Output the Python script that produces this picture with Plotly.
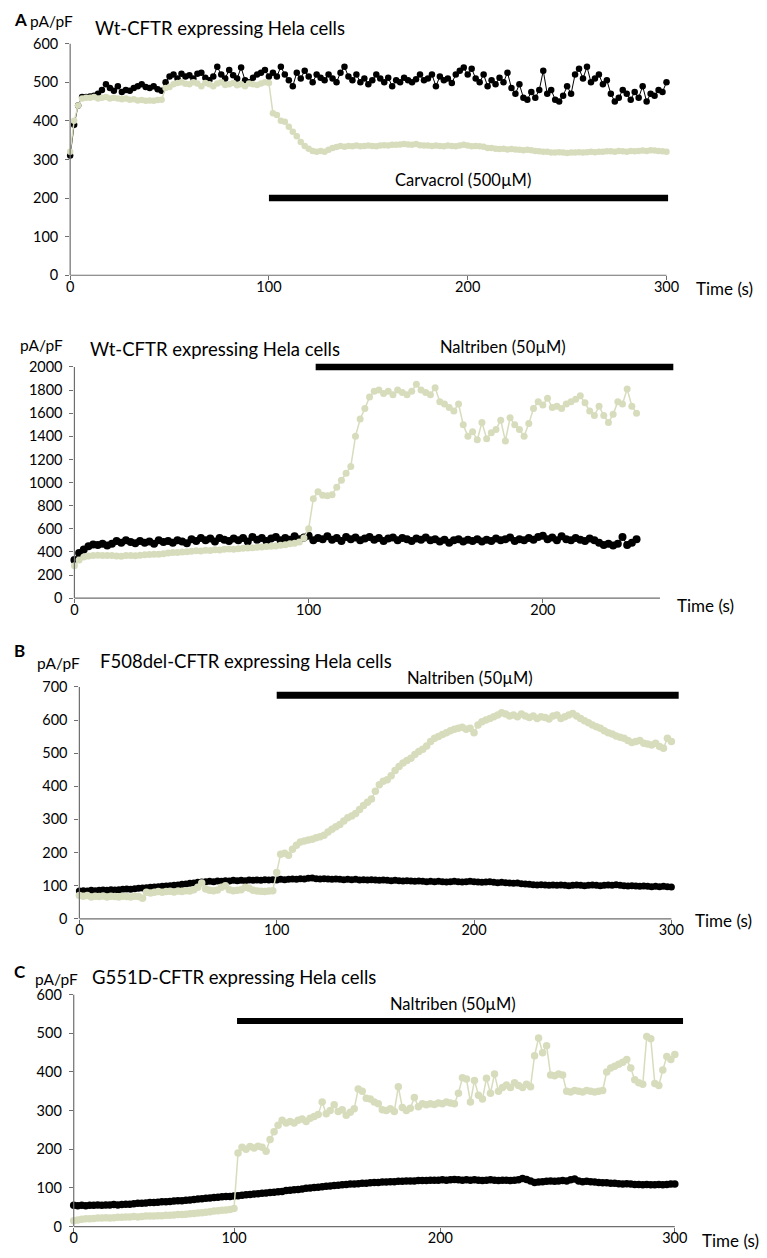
import plotly.graph_objects as go

# The page body has an 8 px margin, so the figure is drawn 8 px smaller and
# every reference pixel position is shifted by OFF.
OFF = 8
W, H = 767 - OFF, 1258 - OFF
GREEN = "#d7ddbc"
BLACK = "#000000"
AXC = "#6e6e6e"
FONT = "Lato"

# ---------------- data ----------------
# Panel A (top): Wt-CFTR, carvacrol
A_TIME = list(range(0, 301, 2))
A_CTRL = [
    310, 390, 440, 462, 462, 463, 465, 470, 480, 495,
    485, 478, 490, 475, 480, 478, 485, 490, 495, 488,
    485, 490, 482, 478, 500, 515, 520, 510, 522, 515,
    518, 510, 522, 525, 512, 505, 515, 540, 520, 510,
    532, 518, 510, 538, 505, 500, 512, 520, 525, 532,
    515, 525, 515, 540, 520, 505, 490, 525, 510, 530,
    515, 500, 520, 512, 505, 520, 510, 500, 525, 540,
    515, 505, 520, 500, 510, 495, 505, 520, 510, 500,
    512, 490, 505, 500, 512, 505, 500, 508, 520, 505,
    510, 520, 490, 515, 505, 510, 498, 520, 530, 538,
    520, 535, 510, 500, 520, 490, 505, 495, 512, 500,
    525, 485, 470, 495, 460, 455, 475, 460, 480, 530,
    470, 480, 455, 450, 465, 490, 470, 520, 535, 510,
    540, 500, 510, 520, 495, 505, 470, 450, 460, 480,
    470, 455, 475, 460, 490, 450, 470, 465, 480, 475,
    500,
]
A_CARV = [
    320, 400, 440, 458, 460, 460, 462, 458, 460, 462,
    458, 460, 458, 456, 458, 455, 456, 453, 454, 452,
    453, 452, 454, 455, 485, 488, 495, 498, 500, 496,
    495, 500, 497, 490, 498, 495, 490, 497, 500, 493,
    495, 498, 492, 495, 490, 497, 495, 493, 497, 500,
    498, 420, 415, 400, 398, 385, 372, 360, 345, 335,
    328, 322, 320, 322, 320, 325, 330, 332, 335, 333,
    335, 334, 336, 334, 335, 336, 335, 334, 336, 337,
    336, 338, 338, 339, 340, 339, 338, 340, 337, 336,
    336, 335, 336, 335, 334, 336, 335, 334, 336, 338,
    336, 334, 335, 334, 333, 330, 330, 328, 327, 328,
    326, 327, 326, 325, 324, 325, 324, 322, 321, 320,
    320, 318, 318, 319, 318, 317, 318, 318, 319, 318,
    319, 320, 319, 320, 320, 321, 321, 320, 322, 321,
    320, 322, 321, 322, 323, 322, 324, 323, 322, 321,
    320,
]
A_BAR = (100, 300.8, 200)          # start, end, level
A_BAR_TEXT = ("Carvacrol (500µM)", 197.4, 246)

# Panel A2: Wt-CFTR, naltriben
A2_TIME = list(range(0, 241, 2))
A2_CTRL = [
    330, 390, 420, 450, 465, 460, 470, 455, 470, 495,
    480, 500, 485, 475, 495, 480, 490, 470, 500, 485,
    495, 480, 500, 490, 475, 510, 495, 520, 500, 515,
    490, 520, 505, 495, 515, 500, 520, 490, 530, 505,
    520, 495, 515, 530, 500, 520, 505, 535, 510, 525,
    540, 500, 520, 510, 535, 505, 520, 495, 530, 510,
    525, 500, 515, 530, 505, 520, 495, 515, 525, 500,
    520, 510, 495, 515, 505, 525, 500, 510, 490, 505,
    480, 500, 510, 490, 505, 495, 510, 490, 505, 495,
    515, 500, 510, 525, 495, 510, 500, 520, 505, 530,
    540, 510, 525, 500, 535, 510, 500, 520, 505, 495,
    515, 500, 480, 460, 470, 455, 470, 530, 460, 480,
    510,
]
A2_NALT = [
    280, 330, 355, 365, 370, 372, 370, 368, 370, 365,
    362, 368, 370, 366, 372, 375, 378, 380, 380, 385,
    390, 394, 396, 400, 402, 405, 410, 408, 414, 412,
    418, 416, 422, 425, 422, 428, 432, 434, 436, 440,
    442, 446, 450, 452, 458, 462, 470, 474, 485, 520,
    600, 860, 920, 890, 885, 895, 960, 1020, 1080, 1140,
    1400, 1550, 1640, 1740, 1790, 1800, 1770, 1790, 1760, 1800,
    1780, 1760, 1790, 1850, 1800, 1780, 1760, 1820, 1700, 1680,
    1650, 1620, 1680, 1500, 1400, 1440, 1370, 1520, 1380, 1430,
    1460, 1540, 1360, 1560, 1500, 1460, 1400, 1510, 1640, 1700,
    1670, 1730, 1650, 1660, 1640, 1680, 1700, 1720, 1750, 1690,
    1620, 1580, 1660, 1580, 1520, 1590, 1700, 1680, 1810, 1660,
    1600,
]
A2_BAR = (103, 255.7, 2000)
A2_BAR_TEXT = ("Naltriben (50µM)", 183, 2169)

# Panel B: F508del-CFTR, naltriben
B_TIME = list(range(0, 301, 2))
B_CTRL = [
    84, 85, 84, 86, 85, 86, 87, 86, 88, 87,
    88, 89, 90, 89, 91, 92, 93, 94, 95, 96,
    97, 98, 99, 100, 101, 102, 104, 105, 107, 108,
    110, 111, 112, 113, 112, 114, 113, 115, 114, 116,
    115, 116, 115, 117, 116, 117, 116, 118, 117, 118,
    117, 119, 118, 119, 120, 119, 121, 120, 122, 123,
    121, 120, 121, 120, 119, 120, 119, 118, 119, 118,
    119, 117, 118, 117, 118, 117, 116, 117, 116, 115,
    116, 115, 114, 115, 114, 113, 114, 113, 112, 113,
    112, 113, 112, 111, 112, 113, 112, 111, 112, 113,
    112, 111, 110, 111, 112, 110, 109, 110, 109, 108,
    107, 108, 106, 105, 104, 103, 102, 103, 102, 101,
    102, 101, 102, 101, 100, 101, 102, 101, 100, 101,
    102, 101, 100, 101, 102, 101, 103, 101, 100, 99,
    100, 99, 98, 99, 98, 97, 98, 97, 98, 97,
    96,
]
B_NALT = [
    70, 68, 70, 66, 68, 67, 69, 66, 68, 67,
    66, 68, 67, 66, 68, 67, 62, 80, 78, 80,
    82, 80, 82, 83, 81, 84, 82, 85, 84, 88,
    95, 108, 90, 86, 85, 87, 95, 100, 88, 85,
    86, 88, 95, 92, 86, 84, 83, 82, 84, 85,
    140, 195, 198, 192, 210, 222, 232, 235, 238, 240,
    245, 248, 252, 262, 270, 278, 285, 295, 305, 310,
    318, 330, 342, 352, 362, 385, 405, 415, 420, 432,
    448, 460, 470, 478, 485, 496, 505, 512, 522, 535,
    545, 550, 556, 562, 568, 572, 575, 578, 572, 575,
    562, 585, 595, 600, 605, 610, 615, 622, 618, 612,
    615, 610, 618, 612, 608, 612, 605, 610, 608, 603,
    612, 615, 605, 610, 615, 620, 612, 605, 598, 592,
    585, 580, 575, 568, 562, 558, 552, 548, 545, 538,
    532, 535, 538, 530, 528, 525, 530, 520, 515, 545,
    535,
]
B_BAR = (100, 303.7, 675)
B_BAR_TEXT = ("Naltriben (50µM)", 198, 727)

# Panel C: G551D-CFTR, naltriben (category-like sample axis)
C_SAMPLE = list(range(0, 301, 2))
C_TICK_POS = [0, 80, 183, 300]
C_TICK_TEXT = ["0", "100", "200", "300"]
C_CTRL = [
    55, 54, 55, 54, 55, 55, 56, 55, 56, 56,
    57, 56, 57, 58, 58, 59, 60, 60, 61, 62,
    62, 63, 64, 64, 65, 66, 67, 67, 68, 69,
    70, 71, 72, 73, 74, 75, 76, 77, 78, 78,
    79, 80, 81, 82, 83, 84, 85, 86, 87, 88,
    89, 90, 91, 93, 94, 95, 96, 97, 99, 100,
    101, 102, 103, 104, 105, 106, 107, 108, 109, 110,
    110, 111, 112, 112, 113, 114, 114, 115, 115, 116,
    116, 117, 117, 118, 118, 118, 119, 119, 119, 120,
    120, 120, 121, 120, 121, 122, 121, 120, 121, 120,
    121, 120, 119, 120, 121, 120, 119, 120, 120, 119,
    120, 121, 124, 122, 118, 114, 115, 116, 117, 118,
    117, 118, 119, 118, 121, 123, 118, 116, 117, 116,
    115, 114, 113, 113, 112, 112, 111, 110, 111, 110,
    109, 109, 108, 109, 108, 108, 109, 108, 109, 110,
    110,
]
C_NALT = [
    15, 17, 19, 20, 20, 21, 22, 22, 23, 22,
    23, 24, 24, 25, 25, 26, 25, 26, 27, 27,
    27, 28, 28, 29, 29, 30, 31, 31, 32, 33,
    34, 35, 36, 37, 38, 40, 41, 42, 43, 44,
    47, 190, 205, 200, 207, 203, 208, 205, 195, 225,
    245, 262, 275, 268, 272, 268, 275, 278, 272, 280,
    285, 290, 322, 292, 300, 315, 298, 302, 288, 296,
    305, 356, 350, 332, 330, 322, 318, 302, 300, 305,
    298, 362, 308, 300, 306, 334, 310, 318, 315, 318,
    316, 320, 318, 322, 320, 318, 345, 385, 382, 322,
    378, 340, 330, 384, 345, 395, 350, 360, 366, 360,
    372, 365, 360, 368, 362, 442, 488, 450, 468, 392,
    390, 395, 392, 350, 348, 352, 350, 348, 352, 350,
    348, 350, 352, 400, 410, 415, 420, 425, 432, 410,
    380, 372, 368, 492, 486, 370, 365, 405, 440, 432,
    445,
]
C_BAR = (81.5, 304.1, 532)
C_BAR_TEXT = ("Naltriben (50µM)", 189.2, 576)

# ---------------- layout geometry (reference pixels) ----------------
panels = [
    dict(x=A_TIME, ctrl=A_CTRL, drug=A_CARV, bar=A_BAR, bartext=A_BAR_TEXT,
         px0=66.7, ppu=2.0063, xr=305, py0=273.0, ppv=0.39, yr=610,
         xmax=300, ymax=600, yticks=list(range(0, 601, 100)),
         xticks=[0, 100, 200, 300], xtext=None, barw=6.6, ms=(6.5, 6.5)),
    dict(x=A2_TIME, ctrl=A2_CTRL, drug=A2_NALT, bar=A2_BAR, bartext=A2_BAR_TEXT,
         px0=71.0, ppu=2.364, xr=262, py0=599.3, ppv=0.1168, yr=2200,
         xmax=250, ymax=2000, yticks=list(range(0, 2001, 200)),
         xticks=[0, 100, 200], xtext=None, barw=6.3, ms=(8, 7)),
    dict(x=B_TIME, ctrl=B_CTRL, drug=B_NALT, bar=B_BAR, bartext=B_BAR_TEXT,
         px0=76.0, ppu=1.9917, xr=310, py0=923.3, ppv=0.3347, yr=740,
         xmax=300, ymax=700, yticks=list(range(0, 701, 100)),
         xticks=[0, 100, 200, 300], xtext=None, barw=7.0, ms=(7, 7.5)),
    dict(x=C_SAMPLE, ctrl=C_CTRL, drug=C_NALT, bar=C_BAR, bartext=C_BAR_TEXT,
         px0=70.3, ppu=2.0223, xr=310, py0=1234.3, ppv=0.3905, yr=620,
         xmax=300, ymax=600, yticks=list(range(0, 601, 100)),
         xticks=C_TICK_POS, xtext=C_TICK_TEXT, barw=6.0, ms=(7.5, 7.5)),
]

fig = go.Figure()
shapes = []
annotations = []
layout_axes = {}

for i, p in enumerate(panels):
    n = "" if i == 0 else str(i + 1)
    xa, ya = "x" + n, "y" + n
    left = p["px0"] - OFF
    bottom = p["py0"] - OFF
    xd = [left / W, (left + p["xr"] * p["ppu"]) / W]
    ytop = bottom - p["yr"] * p["ppv"]
    yd = [1 - bottom / H, 1 - ytop / H]

    fig.add_trace(go.Scatter(
        x=p["x"], y=p["ctrl"], mode="lines+markers", xaxis=xa, yaxis=ya,
        line=dict(color=BLACK, width=1), marker=dict(color=BLACK, size=p["ms"][0]),
        cliponaxis=False, showlegend=False, hoverinfo="skip"))
    fig.add_trace(go.Scatter(
        x=p["x"], y=p["drug"], mode="lines+markers", xaxis=xa, yaxis=ya,
        line=dict(color=GREEN, width=1.5), marker=dict(color=GREEN, size=p["ms"][1]),
        cliponaxis=False, showlegend=False, hoverinfo="skip"))

    tickfont = dict(family=FONT, size=14.5, color="#000")
    xaxis = dict(domain=xd, range=[0, p["xr"]], anchor=ya, showline=False,
                 zeroline=False, showgrid=False, ticks="outside", ticklen=4,
                 tickwidth=1, tickcolor=AXC, tickvals=p["xticks"],
                 tickfont=tickfont, ticklabelstandoff=-6)
    if p["xtext"] is not None:
        xaxis["ticktext"] = p["xtext"]
    yaxis = dict(domain=yd, range=[0, p["yr"]], anchor=xa, showline=False,
                 zeroline=False, showgrid=False, ticks="outside", ticklen=4,
                 tickwidth=1, tickcolor=AXC, tickvals=p["yticks"],
                 tickfont=tickfont, ticklabelstandoff=4)
    layout_axes["xaxis" + n] = xaxis
    layout_axes["yaxis" + n] = yaxis

    # axis lines
    shapes.append(dict(type="line", xref=xa, yref=ya + " domain",
                       x0=0, x1=p["xmax"], y0=0, y1=0,
                       line=dict(color=AXC, width=1.2)))
    shapes.append(dict(type="line", xref=xa + " domain", yref=ya,
                       x0=0, x1=0, y0=0, y1=p["ymax"],
                       line=dict(color=AXC, width=1.2)))
    # treatment bar
    b0, b1, lvl = p["bar"]
    shapes.append(dict(type="line", xref=xa, yref=ya, x0=b0, x1=b1,
                       y0=lvl, y1=lvl, line=dict(color=BLACK, width=p["barw"])))
    txt, tx, ty = p["bartext"]
    annotations.append(dict(text=txt, x=tx, y=ty, xref=xa, yref=ya,
                            showarrow=False, xanchor="center", yanchor="middle",
                            font=dict(family=FONT, size=16.5, color="#000")))


def pa(text, px, py, size, bold=False, anchor="left"):
    if bold:
        text = "<b>" + text + "</b>"
    annotations.append(dict(text=text, x=max(px - OFF, 0) / W, y=1 - (py - OFF) / H,
                            xref="paper", yref="paper", showarrow=False,
                            xanchor=anchor, yanchor="middle",
                            font=dict(family=FONT, size=size, color="#000")))


# panel letters
pa("A", 0, 15, 17, bold=True)
pa("B", 0, 652, 17, bold=True)
pa("C", 0, 977, 17, bold=True)
# y-unit labels
pa("pA/pF", 24, 16, 15.5)
pa("pA/pF", 14, 343, 15.5)
pa("pA/pF", 31, 665, 15.5)
pa("pA/pF", 29, 984, 15.5)
# titles
pa("Wt-CFTR expressing Hela cells", 90, 23, 18.5)
pa("Wt-CFTR expressing Hela cells", 85, 348, 18.5)
pa("F508del-CFTR expressing Hela cells", 95, 663, 18.5)
pa("G551D-CFTR expressing Hela cells", 87, 982, 18.5)
# x-axis titles
pa("Time (s)", 696, 286, 17)
pa("Time (s)", 677, 607, 17)
pa("Time (s)", 695, 925, 17)
pa("Time (s)", 702, 1248, 17)

fig.update_layout(
    width=W, height=H, margin=dict(l=0, r=0, t=0, b=0),
    paper_bgcolor="white", plot_bgcolor="white", showlegend=False,
    shapes=shapes, annotations=annotations, font=dict(family=FONT),
    **layout_axes)

fig.write_html("out.html")
